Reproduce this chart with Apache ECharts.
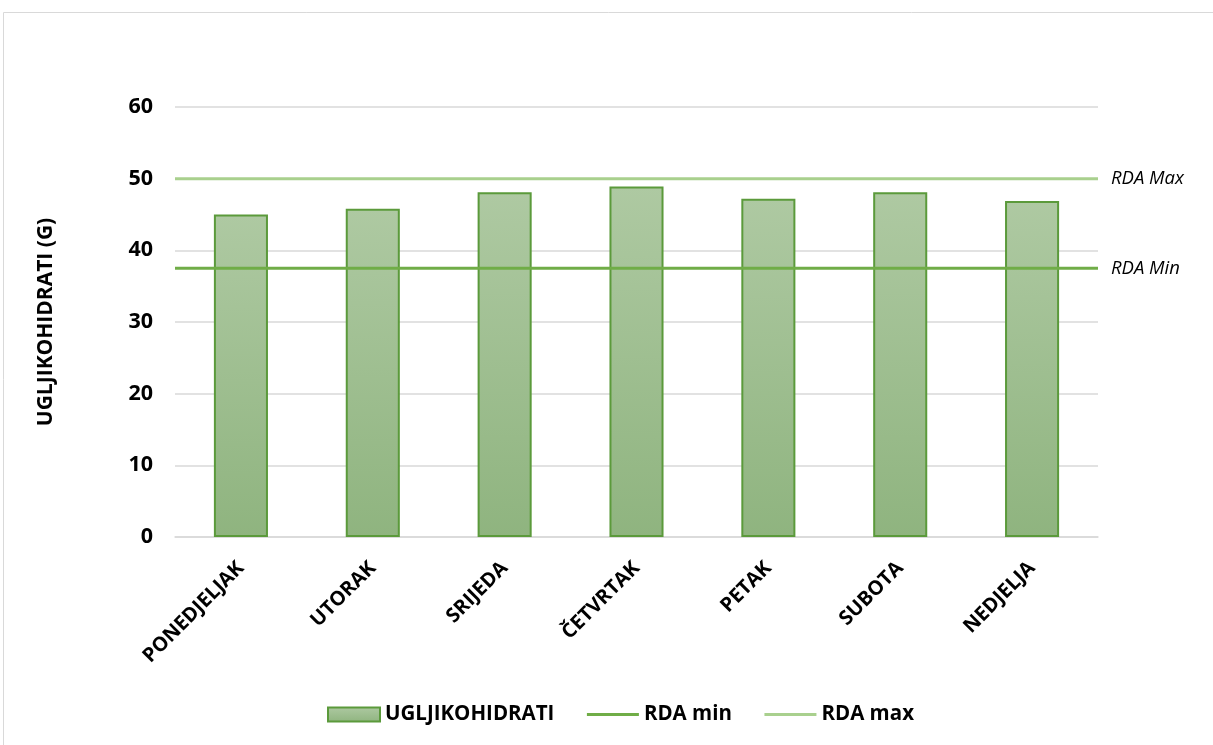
<!DOCTYPE html>
<html>
<head>
    <meta charset="utf-8">
    <title>Ugljikohidrati</title>
    <script src="https://cdn.jsdelivr.net/npm/echarts@6/dist/echarts.min.js"></script>
</head>
<body style="margin:0">
    <div id="c" style="width:1213px;height:745px;"></div>
    <script>
        // podaci
        var days = ['PONEDJELJAK', 'UTORAK', 'SRIJEDA', 'ČETVRTAK', 'PETAK', 'SUBOTA', 'NEDJELJA'];
        var carbs = [45, 45.8, 48.1, 48.9, 47.2, 48.1, 46.9];
        var rdaMin = 37.5;
        var rdaMax = 50;
        var yTicks = [0, 10, 20, 30, 40, 50, 60];

        var font = 'Open Sans';
        var myChart = echarts.init(document.getElementById('c'));
        var option = {
            animation: false,
            textStyle: { fontFamily: font },
            graphic: [{
                type: 'rect',
                shape: { x: 3.5, y: 12.5, width: 1300, height: 900 },
                style: { fill: null, stroke: '#d9d9d9', lineWidth: 1 },
                silent: true
            }],
            grid: { left: 175, right: 115, top: 107, bottom: 208 },
            legend: {
                bottom: 15,
                left: 322,
                itemWidth: 52,
                itemHeight: 14,
                itemGap: 31,
                textStyle: { fontFamily: font, fontWeight: 'bold', fontSize: 20.5, color: '#000' },
                data: [
                    { name: 'UGLJIKOHIDRATI', icon: 'rect' },
                    { name: 'RDA min', itemStyle: { opacity: 0 }, lineStyle: { width: 3 } },
                    { name: 'RDA max', itemStyle: { opacity: 0 }, lineStyle: { width: 3 } }
                ]
            },
            xAxis: [{
                type: 'category',
                data: days,
                axisTick: { show: false },
                axisLine: { lineStyle: { color: '#d9d9d9', width: 1.5 } },
                axisLabel: {
                    rotate: 45, interval: 0, margin: 28,
                    fontFamily: font, fontWeight: 'bold', fontSize: 20, color: '#000'
                }
            }, {
                type: 'value', min: 0, max: 1, show: false
            }],
            yAxis: {
                type: 'value',
                min: yTicks[0],
                max: yTicks[yTicks.length - 1],
                interval: 10,
                name: 'UGLJIKOHIDRATI (G)',
                nameLocation: 'middle',
                nameGap: 118,
                nameTextStyle: { fontFamily: font, fontWeight: 'bold', fontSize: 21, color: '#000' },
                axisLine: { show: false },
                axisTick: { show: false },
                axisLabel: { fontFamily: font, fontWeight: 'bold', fontSize: 21.5, color: '#000', margin: 22 },
                splitLine: { lineStyle: { color: '#d9d9d9', width: 1.5 } }
            },
            series: [{
                name: 'UGLJIKOHIDRATI',
                type: 'bar',
                data: carbs,
                barWidth: '41%',
                itemStyle: {
                    color: new echarts.graphic.LinearGradient(0, 0, 0, 1, [
                        { offset: 0, color: '#aec9a2' },
                        { offset: 1, color: '#8fb47f' }
                    ]),
                    borderColor: '#5b9a3b',
                    borderWidth: 2
                }
            }, {
                name: 'RDA min',
                type: 'line',
                xAxisIndex: 1,
                symbol: 'none',
                data: [[0, rdaMin], [1, rdaMin]],
                lineStyle: { color: '#70ad47', width: 3 },
                itemStyle: { color: '#70ad47' },
                endLabel: {
                    show: true, formatter: 'RDA Min', distance: 13,
                    fontFamily: font, fontStyle: 'italic', fontSize: 18.5, color: '#000'
                }
            }, {
                name: 'RDA max',
                type: 'line',
                xAxisIndex: 1,
                symbol: 'none',
                data: [[0, rdaMax], [1, rdaMax]],
                lineStyle: { color: '#a9d08e', width: 3 },
                itemStyle: { color: '#a9d08e' },
                endLabel: {
                    show: true, formatter: 'RDA Max', distance: 13,
                    fontFamily: font, fontStyle: 'italic', fontSize: 18.5, color: '#000'
                }
            }]
        };
        myChart.setOption(option);
    </script>
</body>
</html>
